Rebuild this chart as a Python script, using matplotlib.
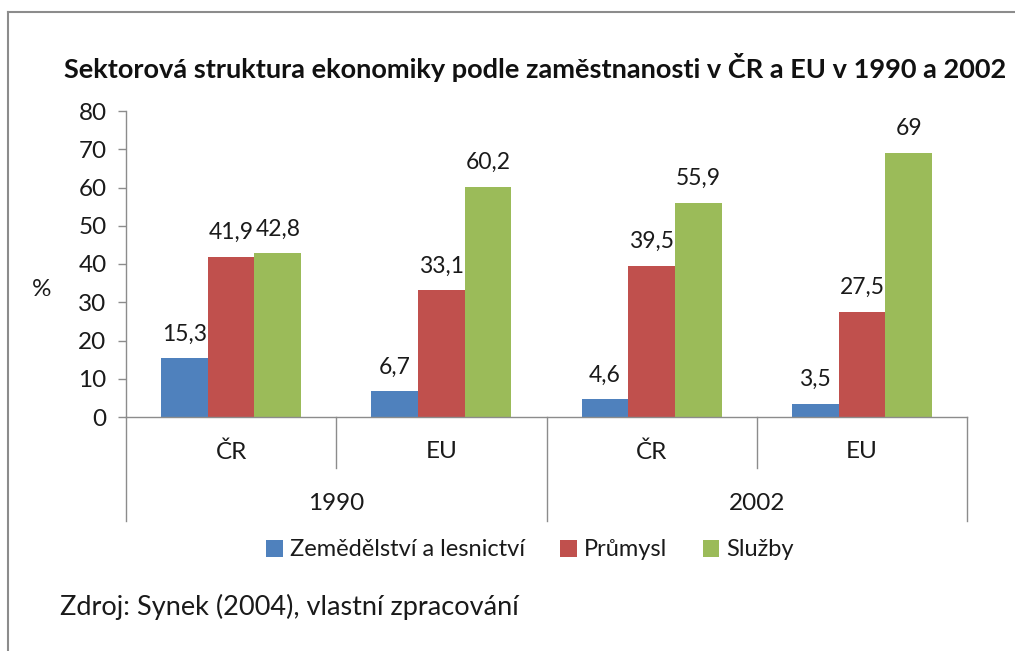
import matplotlib
matplotlib.use("Agg")
import matplotlib.pyplot as plt
from matplotlib.lines import Line2D
from matplotlib.patches import Patch
import numpy as np

years = ["1990", "2002"]
regions = ["ČR", "EU", "ČR", "EU"]
series_names = ["Zemědělství a lesnictví", "Průmysl", "Služby"]
zemedelstvi = [15.3, 6.7, 4.6, 3.5]
prumysl = [41.9, 33.1, 39.5, 27.5]
sluzby = [42.8, 60.2, 55.9, 69]
yticks = [0, 10, 20, 30, 40, 50, 60, 70, 80]
title = "Sektorová struktura ekonomiky podle zaměstnanosti v ČR a EU v 1990 a 2002"
source = "Zdroj: Synek (2004), vlastní zpracování"

colors = ["#4F81BD", "#C0504D", "#9BBB59"]
plt.rcParams['font.family'] = ['Lato', 'DejaVu Sans']
FS = 17.5
TXT = "#1a1a1a"

W, H = 1015, 651
fig = plt.figure(figsize=(W / 100, H / 100), dpi=100)

# frame lines
fig.add_artist(Line2D([8 / W, 1], [1 - 12 / H, 1 - 12 / H], color="#8c8c8c", lw=1.5, transform=fig.transFigure))
fig.add_artist(Line2D([8 / W, 8 / W], [0, 1 - 12 / H], color="#8c8c8c", lw=1.5, transform=fig.transFigure))

ax_l, ax_r, ax_t, ax_b = 126, 967, 111, 417
ax = fig.add_axes([ax_l / W, 1 - ax_b / H, (ax_r - ax_l) / W, (ax_b - ax_t) / H])

x = np.arange(len(regions))
bw = 1 / 4.5
data = [zemedelstvi, prumysl, sluzby]
for i, (vals, c, name) in enumerate(zip(data, colors, series_names)):
    pos = x + (i - 1) * bw
    ax.bar(pos, vals, width=bw, color=c, label=name, zorder=2)
    for p, v in zip(pos, vals):
        lab = (f"{v:g}").replace(".", ",")
        ax.annotate(lab, (p, v), xytext=(0, 10), textcoords="offset points",
                    ha="center", va="bottom", fontsize=16.5, color=TXT)

ax.set_xlim(-0.5, len(regions) - 0.5)
ax.set_ylim(0, 80)
ax.set_yticks(yticks)
ax.set_yticklabels([str(t) for t in yticks], fontsize=FS, color=TXT)
ax.tick_params(axis="y", direction="out", length=6, color="#8c8c8c", width=1, pad=8)
ax.set_xticks([])
for s in ["top", "right"]:
    ax.spines[s].set_visible(False)
ax.spines["left"].set_color("#8c8c8c")
ax.spines["bottom"].set_color("#8c8c8c")
ax.spines["left"].set_linewidth(1)
ax.spines["bottom"].set_linewidth(1)

hpx = ax_b - ax_t
tr = ax.get_xaxis_transform()
inner = -(468 - ax_b) / hpx
outer = -(521 - ax_b) / hpx
for k in range(len(regions) + 1):
    xd = k - 0.5
    depth = outer if k % 2 == 0 else inner
    ax.add_line(Line2D([xd, xd], [0, depth], transform=tr, color="#8c8c8c", lw=1, clip_on=False))
for k, r in enumerate(regions):
    ax.text(k, -(452 - ax_b) / hpx, r, transform=tr, ha="center", va="center", fontsize=FS, color=TXT)
for j, yname in enumerate(years):
    ax.text(2 * j + 0.5, -(503 - ax_b) / hpx, yname, transform=tr, ha="center", va="center", fontsize=FS, color=TXT)

fig.text(42 / W, 1 - 290 / H, "%", ha="center", va="center", fontsize=FS, color=TXT)
fig.text(535 / W, 1 - 68 / H, title, ha="center", va="center", fontsize=19.5, fontweight="bold", color="#111111")

handles = [Patch(facecolor=c, edgecolor="none") for c in colors]
fig.legend(handles, series_names, loc="center", bbox_to_anchor=(530 / W, 1 - 550 / H), ncol=3,
           frameon=False, fontsize=17, handlelength=0.7, handleheight=0.7, handletextpad=0.3,
           columnspacing=1.5, labelcolor=TXT)

fig.text(60 / W, 1 - 607 / H, source, ha="left", va="center", fontsize=19.5, color=TXT)

fig.savefig("out.png", dpi=100)
